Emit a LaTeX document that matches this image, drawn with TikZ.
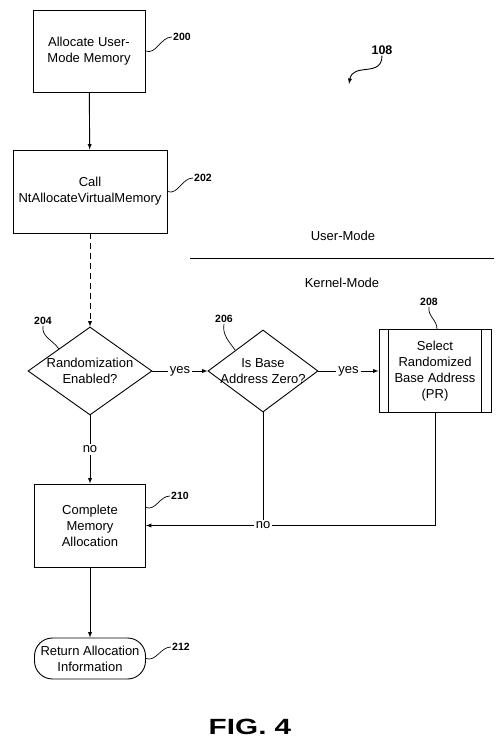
\documentclass[tikz,border=0pt]{standalone}
\usepackage{fontspec}
\setmainfont{Liberation Sans}
\usetikzlibrary{shapes.geometric}

\begin{document}
\begin{tikzpicture}[x=1pt, y=1pt, >=latex,
                every node/.style={font=\fontsize{13}{16}\selectfont, align=center},
                block/.style={rectangle, draw, line width=0.9pt, inner sep=0pt, minimum width=112, minimum height=82},
                decision/.style={diamond, draw, line width=0.9pt, inner sep=0pt},
                refnum/.style={font=\bfseries\fontsize{10.5}{12}\selectfont, inner sep=1pt},
                lbl/.style={fill=white, inner sep=2pt},
                squig/.style={line width=0.7pt}]
                \useasboundingbox (0,0) rectangle (502,742);

                \node[block] (n200) at (89,691) {Allocate User-\\Mode Memory};
                \node[block, minimum width=154, minimum height=83] (n202) at (90,550.5) {Call\\NtAllocateVirtualMemory};
                \node[decision, minimum width=124, minimum height=88, label={center:Randomization\\Enabled?}] (n204) at (90,371) {};
                \node[decision, minimum width=110, minimum height=82, label={center:Is Base\\Address Zero?}] (n206) at (263,371) {};
                \node[block, minimum height=83] (n208) at (435,371) {Select\\Randomized\\Base Address\\(PR)};
                \node[block, minimum width=111, minimum height=83] (n210) at (90,216.5) {Complete\\Memory\\Allocation};
                \node[block, minimum width=111, minimum height=41, rounded corners=18pt] (n212) at (90,83.5) {Return Allocation\\Information};

                \draw[line width=0.9pt] ([xshift=10]n208.north west) -- ([xshift=10]n208.south west)
                    ([xshift=-10]n208.north east) -- ([xshift=-10]n208.south east);

                \node[refnum] (l200) at (182,705) {200};
                \node[refnum] (l202) at (203,564) {202};
                \node[refnum] (l204) at (43,421) {204};
                \node[refnum] (l206) at (224,423) {206};
                \node[refnum] (l208) at (429,440) {208};
                \node[refnum] (l210) at (180,246) {210};
                \node[refnum] (l212) at (181,95) {212};
                \node[refnum, font=\bfseries\fontsize{12.5}{14}\selectfont] (l108) at (382,692) {108};
                \coordinate (p108) at (349,658);

                \node (user) at (343,506) {User-Mode};
                \node (kernel) at (342,459) {Kernel-Mode};
                \draw[line width=0.9pt] (190,484) -- (494,484);

                \path[line width=0.9pt]
                    (n200) edge[->] (n202)
                    (n202) edge[->, dash pattern=on 6pt off 4pt] (n204)
                    (n204) edge[->] node[lbl] {yes} (n206)
                    (n206) edge[->] node[lbl] {yes} (n208)
                    (n204) edge[->] node[lbl] {no} (n210)
                    (n210) edge[->] (n212)
                    ;
                \draw[->, line width=0.9pt] (n208) |- (n210);
                \node[lbl] (no2) at (n206.south |- n210.east) {no};
                \draw[line width=0.9pt] (n206) -- (no2);

                \path[squig]
                    (n200.east) edge[out=-20, in=180] (l200.west)
                    (n202.east) edge[out=-20, in=180] (l202.west)
                    (l204.south) edge[out=-100, in=125] (n204.north west)
                    (l206.south) edge[out=-100, in=125] (n206.north west)
                    (l208.south) edge[out=-100, in=90] ([xshift=2]n208.north)
                    ([yshift=18]n210.east) edge[out=-20, in=180] (l210.west)
                    (n212.east) edge[out=-20, in=180] (l212.west)
                    ;
                \draw[->, line width=0.9pt] (l108.south) to[out=-90, in=80, looseness=1.3] (p108);

                \node[font=\bfseries\fontsize{22}{26}\selectfont] (fig) at (250,15) {\scalebox{1.35}[1]{FIG.\ 4}};
            \end{tikzpicture}
\end{document}
